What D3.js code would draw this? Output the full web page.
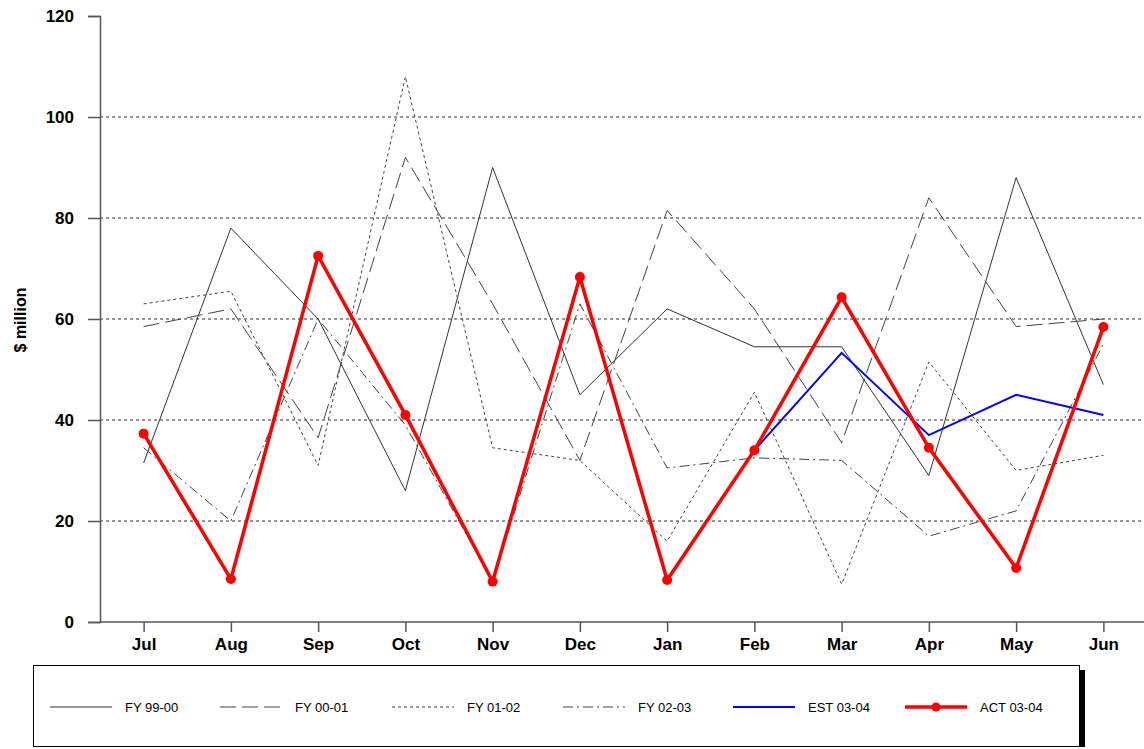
<!DOCTYPE html>
<html>
<head>
<meta charset="utf-8">
<script src="https://cdn.jsdelivr.net/npm/d3@7"></script>
<style>
  body { margin: 0; background: #fff; }
  text { font-family: Arial, "Liberation Sans", sans-serif; }
</style>
</head>
<body>
<svg id="chart"></svg>
<script>
// Dados
const months = ["Jul", "Aug", "Sep", "Oct", "Nov", "Dec", "Jan", "Feb", "Mar", "Apr", "May", "Jun"];
const fy9900 = [31.5, 78, 60, 26, 90, 45, 62, 54.5, 54.5, 29, 88, 47];
const fy0001 = [58.5, 62, 36.5, 92, 63, 32, 81.5, 62, 35.5, 84, 58.5, 60];
const fy0102 = [63, 65.5, 31, 108, 34.5, 32, 16, 45.5, 7.5, 51.5, 30, 33];
const fy0203 = [34.5, 20, 60, 39, 8, 63, 30.5, 32.5, 32, 17, 22, 55];
const est0304 = [null, null, null, null, null, null, null, 34, 53.3, 37, 45, 41];
const act0304 = [37.3, 8.5, 72.5, 41, 8, 68.3, 8.3, 34, 64.3, 34.5, 10.7, 58.4];
const yTicks = [0, 20, 40, 60, 80, 100, 120];

const series = [
  { name: "FY 99-00", values: fy9900, color: "#333", width: 1, dash: null },
  { name: "FY 00-01", values: fy0001, color: "#444", width: 1, dash: "16,6" },
  { name: "FY 01-02", values: fy0102, color: "#444", width: 1, dash: "3,3" },
  { name: "FY 02-03", values: fy0203, color: "#444", width: 1, dash: "10,4,2,4" },
  { name: "EST 03-04", values: est0304, color: "#0000ff", width: 2, dash: null },
  { name: "ACT 03-04", values: act0304, color: "#ff0000", width: 3.5, dash: null, dots: true }
];

const width = 1144, height = 749;
const plotLeft = 100, plotRight = 1147, plotTop = 16, plotBottom = 622;

const svg = d3.select("#chart").attr("width", width).attr("height", height);

const x = d3.scalePoint().domain(months).range([plotLeft, plotRight]).padding(0.5);
const y = d3.scaleLinear().domain([0, 120]).range([plotBottom, plotTop]);

// Grelha
svg.append("g").selectAll("line")
  .data(yTicks.filter(d => d > 0 && d < 120))
  .join("line")
  .attr("x1", plotLeft).attr("x2", width)
  .attr("y1", d => y(d)).attr("y2", d => y(d))
  .attr("stroke", "#333").attr("stroke-dasharray", "3,3").attr("stroke-width", 1);

// Eixos
const yAxis = svg.append("g")
  .attr("transform", `translate(${plotLeft},0)`)
  .call(d3.axisLeft(y).tickValues(yTicks).tickSize(12).tickPadding(14));
const xAxis = svg.append("g")
  .attr("transform", `translate(0,${plotBottom})`)
  .call(d3.axisBottom(x).tickSize(10).tickPadding(6));
[yAxis, xAxis].forEach(a => {
  a.select(".domain").attr("stroke", "#555").attr("stroke-width", 1.5);
  a.selectAll(".tick line").attr("stroke", "#555").attr("stroke-width", 1.5);
  a.selectAll("text").attr("font-size", 17).attr("font-weight", "bold").attr("fill", "#000")
    .style("font-family", "Arial, 'Liberation Sans', sans-serif");
});
xAxis.select(".domain").attr("d", `M${plotLeft},0H${width}`);

svg.append("text")
  .attr("transform", "translate(26,320) rotate(-90)")
  .attr("text-anchor", "middle")
  .attr("font-size", 16).attr("font-weight", "bold")
  .text("$ million");

// Linhas
const line = d3.line()
  .defined(d => d != null)
  .x((d, i) => x(months[i]))
  .y(d => y(d));

series.forEach(s => {
  svg.append("path")
    .datum(s.values)
    .attr("fill", "none")
    .attr("stroke", s.color)
    .attr("stroke-width", s.width)
    .attr("stroke-dasharray", s.dash)
    .attr("stroke-linejoin", "miter")
    .attr("d", line);
  if (s.dots) {
    svg.append("g").selectAll("circle")
      .data(s.values.map((v, i) => [months[i], v]).filter(d => d[1] != null))
      .join("circle")
      .attr("cx", d => x(d[0])).attr("cy", d => y(d[1]))
      .attr("r", 5).attr("fill", s.color);
  }
});

// Legenda
const lg = svg.append("g");
lg.append("rect").attr("x", 1080).attr("y", 670).attr("width", 5).attr("height", 77).attr("fill", "#000");
lg.append("rect").attr("x", 33.5).attr("y", 665.5).attr("width", 1046).attr("height", 81)
  .attr("fill", "#fff").attr("stroke", "#000").attr("stroke-width", 1);
const legX = [50, 220, 392, 563, 733, 905];
series.forEach((s, i) => {
  const g = lg.append("g").attr("transform", `translate(${legX[i]},707)`);
  g.append("line").attr("x1", 0).attr("x2", 62)
    .attr("stroke", s.color).attr("stroke-width", s.width)
    .attr("stroke-dasharray", s.dash);
  if (s.dots) g.append("circle").attr("cx", 31).attr("r", 4.5).attr("fill", s.color);
  g.append("text").attr("x", 75).attr("y", 5).attr("font-size", 13).text(s.name);
});
</script>
</body>
</html>
